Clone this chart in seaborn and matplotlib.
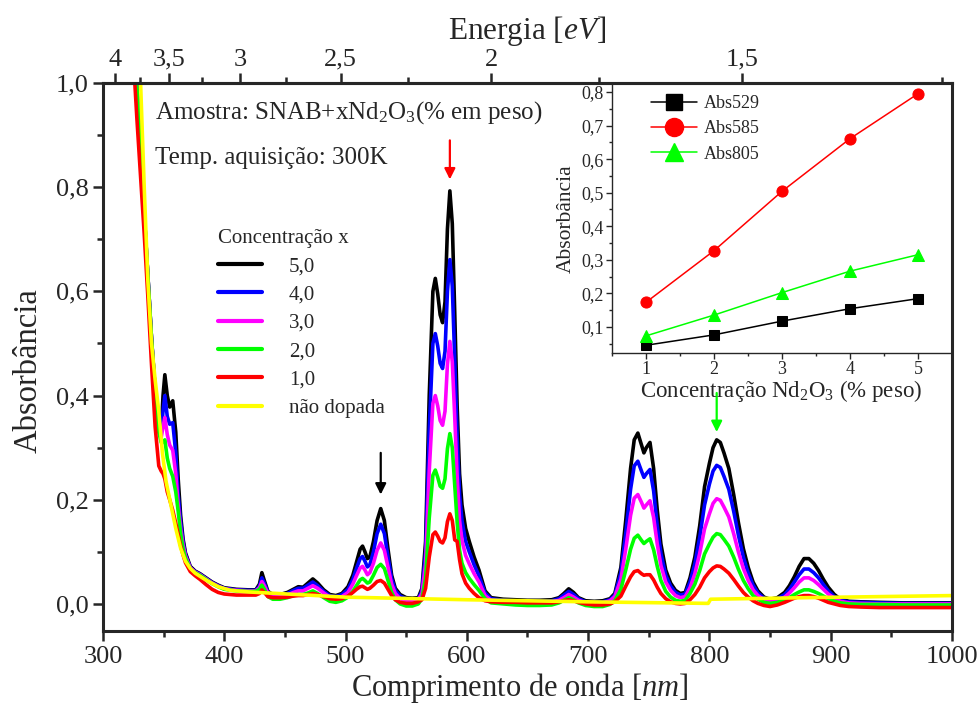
import numpy as np
import pandas as pd
import matplotlib
matplotlib.use('Agg')
import matplotlib.pyplot as plt
import seaborn as sns
from matplotlib.ticker import FixedLocator, MultipleLocator, FuncFormatter
from matplotlib.lines import Line2D

#%% data
wl = [322, 325, 328, 331, 334, 337, 340, 343,
      346, 348, 349.5, 351, 353, 355, 357.5, 360, 362, 364, 366, 368,
      372, 376, 380, 385, 390, 395, 400, 410,
      420, 426, 429, 431, 433, 436, 440, 446, 452, 457,
      461, 465, 469, 473, 477, 482, 487, 492, 497, 502,
      506, 509, 512, 514, 516, 518, 520, 523, 526, 529,
      532, 535, 538, 541, 545, 550, 555,
      560, 563, 566, 569, 572, 574, 576, 578, 580, 582,
      584, 586, 588, 590, 592, 594, 596, 599, 602, 606,
      610, 615, 620, 630, 640, 650, 660, 670,
      676, 680, 684, 688, 692, 698, 705, 712, 718,
      722, 727, 731, 735, 738, 741, 744, 746, 748,
      751, 754, 757, 760, 764, 768, 772, 776,
      780, 784, 788, 792, 796, 800, 803, 806, 809,
      812, 816, 820, 824, 828, 832, 836, 840, 845,
      850, 856, 862, 866, 870, 874, 878, 882, 886,
      890, 894, 898, 903, 908, 915, 925, 940, 960, 980, 1000]

abs_50 = [1.40, 1.15, 0.99, 0.87, 0.75, 0.63, 0.51, 0.41,
          0.34, 0.33, 0.40, 0.44, 0.40, 0.378, 0.39, 0.33, 0.24, 0.17, 0.125, 0.098,
          0.072, 0.063, 0.058, 0.05, 0.042, 0.036, 0.031, 0.028,
          0.027, 0.027, 0.038, 0.06, 0.045, 0.024, 0.018, 0.018, 0.022, 0.028,
          0.033, 0.032, 0.04, 0.048, 0.04, 0.027, 0.018, 0.016, 0.02, 0.033,
          0.055, 0.08, 0.105, 0.111, 0.1, 0.087, 0.09, 0.12, 0.16, 0.183,
          0.16, 0.105, 0.055, 0.03, 0.018, 0.012, 0.011,
          0.012, 0.03, 0.12, 0.4, 0.6, 0.625, 0.595, 0.555, 0.54, 0.58,
          0.72, 0.793, 0.73, 0.56, 0.38, 0.25, 0.19, 0.145, 0.12, 0.09,
          0.065, 0.025, 0.012, 0.009, 0.008, 0.007, 0.007, 0.008,
          0.012, 0.02, 0.029, 0.022, 0.012, 0.006, 0.005, 0.006, 0.01,
          0.02, 0.07, 0.16, 0.26, 0.315, 0.328, 0.305, 0.29, 0.3,
          0.31, 0.26, 0.18, 0.115, 0.065, 0.04, 0.026, 0.02,
          0.022, 0.05, 0.09, 0.15, 0.225, 0.27, 0.3, 0.315, 0.31,
          0.29, 0.26, 0.21, 0.155, 0.106, 0.07, 0.042, 0.025, 0.013,
          0.009, 0.012, 0.022, 0.035, 0.052, 0.072, 0.087, 0.087, 0.078,
          0.064, 0.047, 0.032, 0.018, 0.009, 0.005, 0.004, 0.003, 0.002, 0.002, 0.002]

abs_40 = [1.40, 1.15, 0.99, 0.87, 0.75, 0.63, 0.51, 0.41,
          0.34, 0.33, 0.37, 0.40, 0.36, 0.345, 0.348, 0.29, 0.21, 0.158, 0.12, 0.095,
          0.07, 0.062, 0.057, 0.049, 0.041, 0.035, 0.03, 0.027,
          0.026, 0.026, 0.034, 0.05, 0.04, 0.022, 0.016, 0.016, 0.02, 0.026,
          0.03, 0.03, 0.036, 0.042, 0.035, 0.024, 0.016, 0.014, 0.018, 0.028,
          0.047, 0.068, 0.087, 0.091, 0.082, 0.071, 0.075, 0.1, 0.135, 0.153,
          0.135, 0.09, 0.048, 0.026, 0.015, 0.01, 0.009,
          0.01, 0.025, 0.1, 0.335, 0.5, 0.519, 0.495, 0.462, 0.452, 0.485,
          0.6, 0.661, 0.61, 0.47, 0.32, 0.21, 0.16, 0.12, 0.1, 0.075,
          0.054, 0.021, 0.01, 0.007, 0.006, 0.005, 0.005, 0.006,
          0.01, 0.017, 0.024, 0.018, 0.01, 0.004, 0.003, 0.004, 0.008,
          0.017, 0.06, 0.135, 0.22, 0.265, 0.274, 0.255, 0.243, 0.25,
          0.258, 0.217, 0.15, 0.097, 0.055, 0.034, 0.022, 0.017,
          0.019, 0.042, 0.077, 0.128, 0.19, 0.23, 0.255, 0.266, 0.262,
          0.245, 0.22, 0.178, 0.131, 0.09, 0.059, 0.036, 0.021, 0.011,
          0.007, 0.01, 0.018, 0.028, 0.042, 0.056, 0.067, 0.067, 0.06,
          0.05, 0.037, 0.025, 0.014, 0.007, 0.004, 0.003, 0.002, 0.001, 0.001, 0.001]

abs_30 = [1.40, 1.15, 0.99, 0.87, 0.75, 0.63, 0.51, 0.41,
          0.33, 0.32, 0.34, 0.358, 0.325, 0.305, 0.295, 0.25, 0.19, 0.145, 0.113, 0.092,
          0.069, 0.061, 0.056, 0.048, 0.04, 0.034, 0.029, 0.026,
          0.025, 0.025, 0.031, 0.043, 0.035, 0.02, 0.014, 0.014, 0.017, 0.022,
          0.025, 0.025, 0.03, 0.035, 0.03, 0.021, 0.013, 0.011, 0.014, 0.022,
          0.038, 0.054, 0.069, 0.072, 0.065, 0.056, 0.06, 0.078, 0.103, 0.117,
          0.103, 0.07, 0.038, 0.02, 0.01, 0.006, 0.005,
          0.008, 0.02, 0.077, 0.256, 0.385, 0.4, 0.38, 0.352, 0.343, 0.37,
          0.46, 0.504, 0.465, 0.36, 0.245, 0.16, 0.122, 0.093, 0.077, 0.058,
          0.042, 0.016, 0.007, 0.005, 0.004, 0.003, 0.003, 0.004,
          0.007, 0.012, 0.018, 0.013, 0.007, 0.002, 0.001, 0.002, 0.006,
          0.014, 0.047, 0.105, 0.17, 0.203, 0.21, 0.195, 0.184, 0.19,
          0.198, 0.166, 0.115, 0.074, 0.042, 0.026, 0.016, 0.012,
          0.014, 0.031, 0.058, 0.097, 0.144, 0.173, 0.193, 0.202, 0.199,
          0.186, 0.167, 0.135, 0.099, 0.068, 0.045, 0.027, 0.016, 0.008,
          0.005, 0.007, 0.013, 0.021, 0.031, 0.042, 0.05, 0.05, 0.045,
          0.037, 0.028, 0.019, 0.011, 0.005, 0.002, 0.001, 0.0, 0.0, 0.0, 0.0]

abs_20 = [1.40, 1.15, 0.99, 0.87, 0.75, 0.63, 0.51, 0.41,
          0.33, 0.31, 0.31, 0.315, 0.28, 0.26, 0.245, 0.215, 0.178, 0.135, 0.106, 0.088,
          0.067, 0.06, 0.055, 0.047, 0.039, 0.033, 0.028, 0.025,
          0.024, 0.024, 0.028, 0.036, 0.028, 0.014, 0.009, 0.009, 0.012, 0.016,
          0.018, 0.018, 0.021, 0.025, 0.02, 0.012, 0.005, 0.003, 0.006, 0.013,
          0.024, 0.035, 0.046, 0.049, 0.045, 0.04, 0.042, 0.055, 0.07, 0.076,
          0.068, 0.045, 0.022, 0.008, 0.0, -0.004, -0.004,
          0.0, 0.01, 0.05, 0.165, 0.247, 0.257, 0.243, 0.226, 0.222, 0.24,
          0.298, 0.327, 0.3, 0.23, 0.157, 0.103, 0.078, 0.06, 0.049, 0.037,
          0.026, 0.01, 0.002, 0.0, -0.002, -0.003, -0.003, -0.002,
          0.002, 0.007, 0.012, 0.008, 0.002, -0.003, -0.005, -0.005, -0.001,
          0.006, 0.028, 0.065, 0.105, 0.126, 0.132, 0.122, 0.116, 0.12,
          0.125, 0.104, 0.072, 0.045, 0.024, 0.013, 0.007, 0.005,
          0.007, 0.02, 0.038, 0.064, 0.096, 0.115, 0.128, 0.135, 0.133,
          0.124, 0.111, 0.09, 0.066, 0.045, 0.029, 0.016, 0.009, 0.003,
          0.001, 0.003, 0.008, 0.012, 0.018, 0.023, 0.027, 0.027, 0.024,
          0.02, 0.015, 0.01, 0.005, 0.002, 0.0, -0.001, -0.001, -0.002, -0.002, -0.002]

abs_10 = [1.30, 1.05, 0.93, 0.82, 0.71, 0.59, 0.46, 0.34,
          0.265, 0.255, 0.25, 0.24, 0.215, 0.2, 0.18, 0.155, 0.133, 0.112, 0.094, 0.079,
          0.062, 0.054, 0.047, 0.037, 0.028, 0.022, 0.019, 0.017,
          0.017, 0.017, 0.02, 0.027, 0.022, 0.014, 0.012, 0.012, 0.013, 0.015,
          0.016, 0.016, 0.018, 0.02, 0.018, 0.014, 0.01, 0.009, 0.01, 0.015,
          0.022, 0.028, 0.033, 0.034, 0.031, 0.028, 0.03, 0.036, 0.043, 0.045,
          0.04, 0.028, 0.016, 0.008, 0.003, 0.001, 0.001,
          0.004, 0.008, 0.03, 0.09, 0.133, 0.138, 0.13, 0.12, 0.117, 0.127,
          0.158, 0.173, 0.16, 0.123, 0.12, 0.085, 0.058, 0.04, 0.03, 0.02,
          0.012, 0.006, 0.004, 0.003, 0.003, 0.002, 0.002, 0.002,
          0.004, 0.006, 0.008, 0.006, 0.003, 0.0, -0.002, -0.002, 0.0,
          0.004, 0.015, 0.034, 0.052, 0.062, 0.064, 0.058, 0.055, 0.056,
          0.056, 0.046, 0.032, 0.02, 0.01, 0.004, 0.001, 0.0,
          0.001, 0.008, 0.018, 0.032, 0.05, 0.062, 0.069, 0.073, 0.072,
          0.067, 0.059, 0.047, 0.034, 0.022, 0.013, 0.006, 0.001, -0.003,
          -0.005, -0.002, 0.003, 0.007, 0.011, 0.014, 0.016, 0.016, 0.014,
          0.011, 0.007, 0.003, 0.0, -0.003, -0.005, -0.006, -0.007, -0.007, -0.007, -0.007]

# undoped glass has its own (coarser) sampling
wl_ref = [322, 326, 329, 331, 334, 337, 340, 343, 346, 349, 352, 356, 360, 364, 368,
          372, 376, 382, 387, 395, 405, 420, 500, 600, 700, 799, 801, 880, 1000]
abs_ref = [1.6, 1.3, 1.1, 1.0, 0.80, 0.62, 0.50, 0.43, 0.37, 0.29, 0.235, 0.19, 0.145, 0.107, 0.082,
           0.068, 0.059, 0.05, 0.043, 0.033, 0.026, 0.023, 0.013, 0.008, 0.004, 0.001, 0.009, 0.012, 0.016]

conc_labels = ['5,0', '4,0', '3,0', '2,0', '1,0']
colors = ['#000000', '#0000ff', '#ff00ff', '#00ff00', '#ff0000']
ref_label = 'não dopada'
ref_color = '#ffff00'

# inset
conc = [1, 2, 3, 4, 5]
abs529 = [0.045, 0.076, 0.117, 0.154, 0.184]
abs585 = [0.173, 0.327, 0.504, 0.661, 0.795]
abs805 = [0.073, 0.135, 0.202, 0.266, 0.315]

#%%
sns.set_style('ticks')
plt.rcParams['font.family'] = ['Liberation Serif', 'DejaVu Serif']
plt.rcParams['mathtext.fontset'] = 'custom'
plt.rcParams['mathtext.rm'] = 'Liberation Serif'
plt.rcParams['mathtext.it'] = 'Liberation Serif:italic'

def comma(v, pos=None):
    return '{:.1f}'.format(v).replace('.', ',')

def nm_to_ev(x):
    x = np.asarray(x, dtype=float)
    with np.errstate(divide='ignore'):
        return 1240.0 / x

spectra = pd.concat([pd.DataFrame({'wl': wl, 'A': a, 'x': lab})
                     for a, lab in zip([abs_50, abs_40, abs_30, abs_20, abs_10], conc_labels)])

fig = plt.figure(figsize=(9.79, 7.04), dpi=100)
ax = fig.add_axes([0.1052, 0.1037, 0.8672, 0.7783])

sns.lineplot(data=spectra, x='wl', y='A', hue='x', hue_order=conc_labels, palette=colors,
             estimator=None, sort=False, lw=2.6, legend=False, ax=ax)
sns.lineplot(x=wl_ref, y=abs_ref, color=ref_color, lw=2.6, estimator=None, sort=False, ax=ax)

ax.set_xlim(300, 1000)
ax.set_ylim(-0.052, 1.0)
ax.xaxis.set_major_locator(MultipleLocator(100))
ax.xaxis.set_minor_locator(MultipleLocator(50))
ax.yaxis.set_major_locator(MultipleLocator(0.2))
ax.yaxis.set_minor_locator(MultipleLocator(0.1))
ax.yaxis.set_major_formatter(FuncFormatter(comma))
ax.tick_params(which='major', direction='out', length=7, width=1.8, labelsize=19, top=False, right=False)
ax.tick_params(which='minor', direction='out', length=4, width=1.8, top=False, right=False)
for s in ax.spines.values():
    s.set_linewidth(2.2)
ax.set_xlabel('Comprimento de onda [$nm$]', fontsize=22)
ax.set_ylabel('Absorbância', fontsize=23.5)
ax.xaxis.set_label_coords(0.491, -0.104)
ax.xaxis.label.set_va('center')
ax.yaxis.set_label_coords(-0.088, 0.476)
ax.yaxis.label.set_va('center')

secax = ax.secondary_xaxis('top', functions=(nm_to_ev, nm_to_ev))
secax.set_xticks([4, 3.5, 3, 2.5, 2, 1.5])
secax.set_xticklabels(['4', '3,5', '3', '2,5', '2', '1,5'])
secax.xaxis.set_minor_locator(FixedLocator([3.75, 3.25, 2.75, 2.25, 1.75, 1.25]))
secax.tick_params(which='major', direction='out', length=7, width=1.8, labelsize=19, pad=2)
secax.tick_params(which='minor', direction='out', length=4, width=1.8)
secax.spines['top'].set_linewidth(2.2)
secax.set_xlabel('Energia [$eV$]', fontsize=22.5, labelpad=7)

ax.text(343, 0.944, 'Amostra: SNAB+xNd$_2$O$_3$(% em peso)', fontsize=18, va='center')
ax.text(343, 0.856, 'Temp. aquisição: 300K', fontsize=18, va='center')

handles = [Line2D([], [], color=c, lw=3) for c in colors + [ref_color]]
leg = ax.legend(handles, conc_labels + [ref_label], title='Concentração x', frameon=False,
                loc='upper left', bbox_to_anchor=(218 / 979, 1 - 229 / 704),
                bbox_transform=fig.transFigure, fontsize=15, title_fontsize=15,
                handlelength=2.1, handletextpad=1.3, labelspacing=0.42, borderpad=0,
                borderaxespad=0, alignment='left')

arrow = dict(arrowstyle='-|>', lw=1.6, mutation_scale=16, shrinkA=0, shrinkB=0)
ax.annotate('', xy=(529, 0.21), xytext=(529, 0.29), arrowprops=dict(arrow, color='k'))
ax.annotate('', xy=(586, 0.815), xytext=(586, 0.89), arrowprops=dict(arrow, color='#ff0000'))
ax.annotate('', xy=(806, 0.33), xytext=(806, 0.405), arrowprops=dict(arrow, color='#00ff00'))

#%% inset
axi = fig.add_axes([0.6251, 0.4986, 0.3453, 0.3807])
axi.set_facecolor('none')
sns.lineplot(x=conc, y=abs529, color='k', marker='s', markersize=7, lw=1.1, mec='k', ax=axi)
sns.lineplot(x=conc, y=abs585, color='#ff0000', marker='o', markersize=8, lw=1.1, mec='#ff0000', ax=axi)
sns.lineplot(x=conc, y=abs805, color='#00ff00', marker='^', markersize=8, lw=1.1, mec='#00ff00', ax=axi)
axi.set_xlim(0.5, 5.47)
axi.set_ylim(0.022, 0.821)
axi.xaxis.set_major_locator(MultipleLocator(1))
axi.xaxis.set_minor_locator(MultipleLocator(0.5))
axi.yaxis.set_major_locator(MultipleLocator(0.1))
axi.yaxis.set_minor_locator(MultipleLocator(0.05))
axi.yaxis.set_major_formatter(FuncFormatter(comma))
axi.tick_params(which='major', direction='out', length=4, width=1, labelsize=13, pad=2)
axi.tick_params(which='minor', direction='out', length=2, width=1)
axi.spines['top'].set_visible(False)
axi.spines['right'].set_visible(False)
for s in ['left', 'bottom']:
    axi.spines[s].set_linewidth(1)
axi.set_xlabel('Concentração Nd$_2$O$_3$ (% peso)', fontsize=16.5, labelpad=0)
axi.set_ylabel('Absorbância', fontsize=15.5, labelpad=4)
ih = [Line2D([], [], color='k', marker='s', markersize=11, lw=1.1),
      Line2D([], [], color='#ff0000', marker='o', markersize=13, lw=1.1),
      Line2D([], [], color='#00ff00', marker='^', markersize=13, lw=1.1)]
axi.legend(ih, ['Abs529', 'Abs585', 'Abs805'], frameon=False, loc='upper left',
           bbox_to_anchor=(0.09, 0.995), fontsize=13, handlelength=2.5,
           handletextpad=0.4, labelspacing=0.45, borderpad=0)

fig.savefig('out.png', dpi=100)
